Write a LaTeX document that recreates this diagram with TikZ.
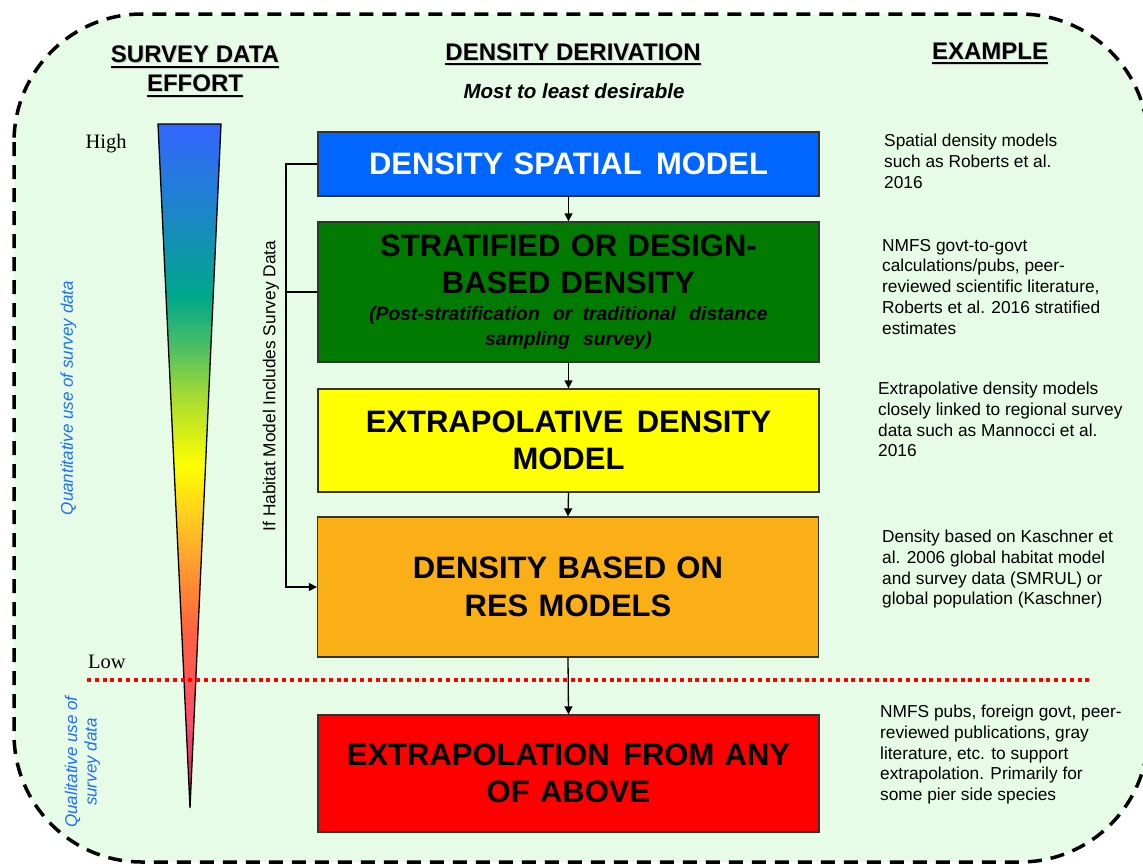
\documentclass[tikz,border=0pt]{standalone}
\usepackage{fontspec}
\setmainfont{Liberation Sans}
\newfontfamily\serifface{Liberation Serif}
\usetikzlibrary{arrows.meta}

\definecolor{bg}{RGB}{230,252,230}
\definecolor{boxblue}{RGB}{0,102,255}
\definecolor{boxgreen}{RGB}{0,122,0}
\definecolor{boxyellow}{RGB}{255,255,0}
\definecolor{boxorange}{RGB}{251,175,23}
\definecolor{boxred}{RGB}{255,0,0}
\definecolor{noteblue}{RGB}{30,110,255}

% colour ramp of the effort wedge (0bp = tip, 100bp = top)
\definecolor{e0}{RGB}{96,0,40}
\definecolor{e1}{RGB}{216,42,96}
\definecolor{e2}{RGB}{255,79,106}
\definecolor{e3}{RGB}{255,96,64}
\definecolor{e4}{RGB}{255,154,48}
\definecolor{e5}{RGB}{255,200,34}
\definecolor{e6}{RGB}{255,255,0}
\definecolor{e7}{RGB}{168,220,48}
\definecolor{e8}{RGB}{80,192,96}
\definecolor{e9}{RGB}{0,168,138}
\definecolor{e10}{RGB}{28,134,200}
\definecolor{e11}{RGB}{51,102,255}
\pgfdeclareverticalshading{effort}{100bp}{%
  color(0bp)=(e0); color(25bp)=(e0); color(27bp)=(e1); color(31.2bp)=(e2);
  color(37.75bp)=(e3); color(42.65bp)=(e4); color(46bp)=(e5); color(50bp)=(e6);
  color(55bp)=(e7); color(58.5bp)=(e8); color(62.3bp)=(e9); color(68.5bp)=(e10);
  color(75bp)=(e11); color(100bp)=(e11)}

% underlined text and soft drop shadow for the column headings
\newcommand\ulined[1]{\setbox0=\hbox{#1}\rlap{\vrule height -3pt depth 5pt width \wd0}\box0}
\newcommand\shadowed[1]{\leavevmode\rlap{\kern1.1pt\raisebox{-1.1pt}{\color{black!18}#1}}#1}

\begin{document}
\begin{tikzpicture}[x=1pt,y=-1pt,
  box/.style={draw=black!80, line width=1.3pt, minimum width=501pt, text width=495pt,
    align=center, inner sep=0pt, font=\bfseries\fontsize{31}{37.5}\selectfont},
  arr/.style={line width=1.3pt, -{Triangle[length=8pt,width=8pt]}},
  link/.style={line width=1.3pt},
  note/.style={anchor=north west, inner sep=0pt, align=left,
    font=\fontsize{17.3}{20.7}\selectfont},
  side/.style={text=noteblue, font=\itshape\fontsize{17}{19.5}\selectfont,
    rotate=90, inner sep=0pt, align=center},
  hdr/.style={font=\bfseries\fontsize{24}{29}\selectfont, inner sep=0pt, align=center},
  level/.style={font=\serifface\fontsize{20.5}{24}\selectfont, inner sep=0pt}]

\useasboundingbox (0,0) rectangle (1143,865);

% dashed rounded frame
\begin{scope}
  \clip (0,0) rectangle (1143,865);
  \draw[fill=bg, line width=3.5pt, dash pattern=on 14pt off 9pt, rounded corners=128pt]
    (14,14) rectangle (1148,862);
\end{scope}

% column headings
\node[hdr, anchor=north] (hsurvey) at (195,45.6)
  {\shadowed{\ulined{SURVEY DATA}}\\\shadowed{\ulined{EFFORT}}};
\node[hdr, anchor=base] (hderiv) at (573,60) {\shadowed{\ulined{DENSITY DERIVATION}}};
\node[hdr, anchor=base] (hexample) at (990,59) {\shadowed{\ulined{EXAMPLE}}};
\node[anchor=base, inner sep=0pt, font=\bfseries\itshape\fontsize{20.5}{24}\selectfont]
  (hrank) at (574,98) {Most to least desirable};

% effort wedge
\shade[shading=effort, draw=black, line width=1.3pt, line join=miter]
  (158,124) -- (221,124) -- (190,808) -- cycle;
\node[level, anchor=base] (high) at (106,148) {High};
\node[level, anchor=base] (low) at (107,668) {Low};

% side notes
\node[side] (quant) at (68.5,398) {Quantitative use of survey data};
\node[side] (qual) at (82.5,762) {Qualitative use of\\survey data};

% derivation boxes
\node[box, fill=boxblue, text=white, minimum height=64pt] (b1) at (568.5,164)
  {DENSITY SPATIAL\hspace{4pt} MODEL};
\node[box, fill=boxgreen, minimum height=140pt] (b2) at (568.5,292)
  {STRATIFIED OR DESIGN-\\BASED DENSITY\par\vspace{2pt}
   {\itshape\fontsize{19.3}{25}\selectfont (Post-stratification\hspace{3pt} or traditional\hspace{3pt} distance\\ sampling\hspace{3pt} survey)\par}};
\node[box, fill=boxyellow, minimum height=103pt] (b3) at (568.5,440.5)
  {EXTRAPOLATIVE\hspace{3pt} DENSITY\\MODEL};
\node[box, fill=boxorange, minimum height=140pt] (b4) at (568,587)
  {DENSITY BASED ON\\RES MODELS};
\node[box, fill=boxred, minimum height=117pt] (b5) at (568.5,773.5)
  {EXTRAPOLATION\hspace{3pt} FROM ANY\\OF ABOVE};

% survey data divider
\coordinate (divL) at (87,680);
\coordinate (divR) at (1090,680);
\draw[boxred, line width=3.3pt, dash pattern=on 4pt off 3.8pt] (divL) -- (divR);

% flow between boxes
\draw[arr] (b1.south) -- (b2.north);
\draw[arr] (b2.south) -- (b3.north);
\draw[arr] (b3.south) -- (b4.north);
\draw[arr] (b4.south) -- (b5.north);

% habitat-model bypass
\coordinate (bx) at (286,0);
\draw[link, -{Triangle[length=8pt,width=8pt]}] (b1.west) -- (b1.west -| bx) |- (b4.west);
\draw[link] (b2.west) -- (b2.west -| bx);
\node[rotate=90, inner sep=0pt, font=\fontsize{17.3}{20}\selectfont] (bypass) at (271,386)
  {If Habitat Model Includes Survey Data};

% examples
\node[note] (n1) at (884,134) {Spatial density models\\such as Roberts et al.\\2016};
\node[note] (n2) at (882,239) {NMFS govt-to-govt\\calculations/pubs, peer-\\reviewed scientific literature,\\Roberts et al. 2016 stratified\\estimates};
\node[note] (n3) at (878,382) {Extrapolative density models\\closely linked to regional survey\\data such as Mannocci et al.\\2016};
\node[note] (n4) at (882,530) {Density based on Kaschner et\\al. 2006 global habitat model\\and survey data (SMRUL) or\\global population (Kaschner)};
\node[note] (n5) at (880,705) {NMFS pubs, foreign govt, peer-\\reviewed publications, gray\\literature, etc. to support\\extrapolation. Primarily for\\some pier side species};
\end{tikzpicture}
\end{document}
